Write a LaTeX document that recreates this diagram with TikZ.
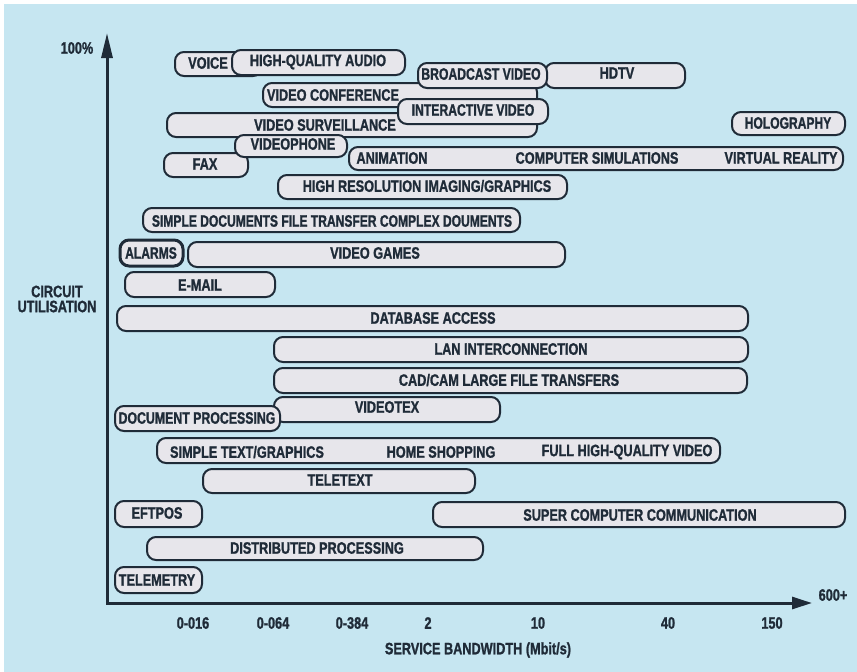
\documentclass[tikz,border=0pt]{standalone}
\usepackage{fontspec}
\setmainfont{Liberation Sans}[FakeStretch=0.77,BoldFeatures={FakeBold=1.2}]
\usetikzlibrary{arrows.meta}

\definecolor{sky}{HTML}{C6E6F1}
\definecolor{barfill}{HTML}{E7E6EB}
\definecolor{ink}{HTML}{1F2B38}

% a service band: name, left, top, right, bottom (picture units)
\newcommand\band[6][]{%
  \node[band,#1,minimum width={(#5-#3)*1pt},minimum height={(#6-#4)*1pt}]
    (#2) at ({(#3+#5)/2},{(#4+#6)/2}) {};}
% horizontally squeezed text
\newcommand\narrow[2]{\scalebox{#1}[1]{#2}}

\tikzset{
  band/.style={rectangle,draw=ink,line width=2pt,fill=barfill,
    rounded corners=9pt,inner sep=0pt,outer sep=0pt},
  heavy/.style={line width=3pt},
  lbl/.style={font=\fontsize{16.5}{18}\selectfont\bfseries,text=ink,inner sep=0pt},
  axis/.style={draw=ink,line width=3pt},
}

\begin{document}
\begin{tikzpicture}[x=1pt,y=-1pt]
\useasboundingbox (0,0) rectangle (857,672);
\fill[white] (0,0) rectangle (857,672);
\fill[sky] (4,4) rectangle (857,672);

% axes
\coordinate (origin) at (107,603);
\coordinate (ytip) at (107,33);
\coordinate (xtip) at (812,603);
\draw[axis,{Triangle[length=25pt,width=11pt]}-{Triangle[length=20pt,width=12pt]}]
  (ytip) -- (origin) -- (xtip);

\node[lbl] (top) at (77,48) {100\%};
\node[lbl,align=center] (yname) at (57,299) {CIRCUIT\\[-3pt]UTILISATION};
\node[lbl] (xend) at (833,595) {600+};

% bandwidth scale
\node[lbl] (t1) at (193,623) {0-016};
\node[lbl] (t2) at (273,623) {0-064};
\node[lbl] (t3) at (352,623) {0-384};
\node[lbl] (t4) at (428,623) {2};
\node[lbl] (t5) at (538,623) {10};
\node[lbl] (t6) at (668,623) {40};
\node[lbl] (t7) at (772,623) {150};
\node[lbl] (xname) at (478,650) {SERVICE BANDWIDTH (Mbit/s)};

% services, high utilisation first
\band{voice}{175}{52}{262}{76}
\band{hqaudio}{232}{50}{405}{75}
\node[lbl] (lvoice) at (208,63) {VOICE};
\node[lbl] (lhqaudio) at (318,62) {HIGH-QUALITY AUDIO};

\band{vconf}{263}{83}{537}{107}
\band{hdtv}{545}{63}{685}{88}
\band{bcast}{418}{63}{547}{88}
\node[lbl] (lvconf) at (333,95) {VIDEO CONFERENCE};
\node[lbl] (lhdtv) at (617,73) {HDTV};
\node[lbl] (lbcast) at (481,74) {\narrow{0.96}{BROADCAST VIDEO}};

\band{vsurv}{167}{113}{537}{137}
\band{ivideo}{398}{99}{548}{124}
\node[lbl] (lvsurv) at (325,125) {VIDEO SURVEILLANCE};
\node[lbl] (livideo) at (473,110) {\narrow{0.96}{INTERACTIVE VIDEO}};

\band{holo}{732}{112}{845}{135}
\node[lbl] (lholo) at (788,123) {\narrow{0.95}{HOLOGRAPHY}};

\band{fax}{164}{153}{248}{177}
\band{vphone}{235}{135}{347}{157}
\node[lbl] (lfax) at (205,164) {FAX};
\node[lbl] (lvphone) at (293,144) {VIDEOPHONE};

\band{anim}{349}{147}{843}{170}
\node[lbl] (lanim) at (392,158) {ANIMATION};
\node[lbl] (lsim) at (597,158) {COMPUTER SIMULATIONS};
\node[lbl] (lvr) at (781,158) {VIRTUAL REALITY};

\band{hres}{278}{175}{567}{199}
\node[lbl] (lhres) at (427,186) {HIGH RESOLUTION IMAGING/GRAPHICS};

\band{sdocs}{143}{208}{520}{232}
\node[lbl] (lsdocs) at (332,221) {\narrow{0.95}{SIMPLE DOCUMENTS FILE TRANSFER COMPLEX DOUMENTS}};

\band[heavy]{alarms}{120}{240}{183}{266}
\band{vgames}{188}{242}{565}{267}
\node[lbl] (lalarms) at (151,253) {\narrow{0.95}{ALARMS}};
\node[lbl] (lvgames) at (375,253) {VIDEO GAMES};

\band{email}{125}{272}{275}{297}
\node[lbl] (lemail) at (200,285) {E-MAIL};

\band{dbase}{117}{306}{748}{331}
\node[lbl] (ldbase) at (433,318) {DATABASE ACCESS};

\band{lan}{274}{337}{748}{362}
\node[lbl] (llan) at (511,349) {LAN INTERCONNECTION};

\band{cad}{274}{368}{747}{393}
\node[lbl] (lcad) at (509,380) {CAD/CAM LARGE FILE TRANSFERS};

\band{vtex}{274}{397}{500}{422}
\band{docproc}{115}{406}{280}{431}
\node[lbl] (lvtex) at (387,407) {VIDEOTEX};
\node[lbl] (ldocproc) at (197,418) {\narrow{0.97}{DOCUMENT PROCESSING}};

\band{stext}{157}{438}{720}{463}
\node[lbl] (lstext) at (247,452) {SIMPLE TEXT/GRAPHICS};
\node[lbl] (lshop) at (441,452) {HOME SHOPPING};
\node[lbl] (lfull) at (627,452) {FULL HIGH-QUALITY VIDEO};

\band{teletext}{203}{469}{475}{493}
\node[lbl] (lteletext) at (340,480) {TELETEXT};

\band{eftpos}{115}{501}{202}{527}
\band{supercomp}{433}{502}{845}{527}
\node[lbl] (leftpos) at (157,513) {EFTPOS};
\node[lbl] (lsupercomp) at (640,515) {SUPER COMPUTER COMMUNICATION};

\band{distproc}{147}{537}{483}{560}
\node[lbl] (ldistproc) at (317,548) {DISTRIBUTED PROCESSING};

\band{telemetry}{115}{567}{202}{593}
\node[lbl] (ltelemetry) at (157,580) {TELEMETRY};
\end{tikzpicture}
\end{document}
